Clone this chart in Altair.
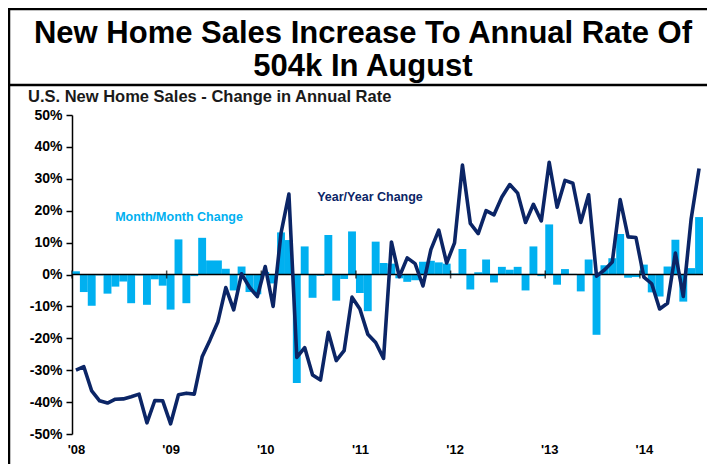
import json
import altair as alt
import pandas as pd

# Months Jan 2008 .. Aug 2014 (index 0..79)
month_index = list(range(80))

# Month/Month change (%), bars
mom = [1.0, -5.5, -9.8, -0.3, -6.0, -3.8, -2.2, -9.0, -0.3, -9.5, -1.5, -3.5,
       -11.0, 11.0, -9.0, -0.5, 11.5, 4.4, 4.4, 1.8, -5.0, 2.5, -5.5, -6.2,
       0.8, -2.8, 13.2, 10.8, -34.0, 8.8, -7.3, -0.4, 12.4, -8.2, -1.4, 13.5,
       -5.8, -11.5, 10.3, 3.6, 3.4, -1.2, -2.3, -1.8, 4.0, 4.3, 3.8, 3.4,
       0.3, 8.0, -4.7, 0.7, 4.7, -2.5, 2.4, 1.5, 2.4, -5.0, 8.8, -0.5,
       15.7, -3.2, 1.7, 0.2, -5.3, 4.7, -18.9, 2.9, 5.1, 12.7, -1.0, -0.8,
       3.1, -5.6, -6.9, 2.5, 10.9, -8.5, 2.0, 18.0]

# Year/Year change (%), line
yoy = [-30.0, -28.9, -36.5, -39.6, -40.3, -39.1, -39.0, -38.3, -37.5, -46.5, -39.5, -39.6,
       -46.8, -37.7, -37.2, -37.5, -25.8, -20.5, -14.8, -4.1, -11.1, 0.2, -4.0, -6.9,
       2.5, -10.0, 13.0, 25.2, -26.0, -22.9, -31.5, -33.1, -18.1, -27.0, -23.9, -7.1,
       -10.8, -18.7, -21.3, -26.3, 10.2, -0.7, 5.2, 3.4, -3.6, 7.8, 13.9, 3.6,
       9.9, 34.3, 16.0, 12.8, 20.0, 18.7, 24.3, 28.2, 25.5, 16.3, 22.0, 16.8,
       35.2, 21.1, 29.5, 28.6, 16.3, 25.0, -0.5, 1.4, 3.9, 23.5, 11.8, 11.6,
       -0.8, -2.9, -10.8, -9.0, 6.7, -6.9, 17.5, 33.2]

year_ticks = [0, 12, 24, 36, 48, 60, 72]
year_labels = ["'08", "'09", "'10", "'11", "'12", "'13", "'14"]
y_ticks = [50, 40, 30, 20, 10, 0, -10, -20, -30, -40, -50]

title_line1 = "New Home Sales Increase To Annual Rate Of"
title_line2 = "504k In August"
subtitle = "U.S. New Home Sales - Change in Annual Rate"
mom_label = "Month/Month Change"
yoy_label = "Year/Year Change"

FONT = "Liberation Sans, Arial, sans-serif"
BAR = "#00B0F0"
NAVY = "#0B2566"

df = pd.DataFrame({"m": month_index, "mom": mom, "yoy": yoy})
df["x0"] = df["m"]
df["x1"] = df["m"] + 1
df["xc"] = df["m"] + 0.5

xs = alt.Scale(domain=[0, 80], nice=False, zero=False)
ys = alt.Scale(domain=[-50, 50], nice=False)

label_expr = "[" + ",".join(json.dumps(l) for l in year_labels) + "][datum.value / 12]"


def xaxis():
    return alt.Axis(values=year_ticks, labelExpr=label_expr, domain=False, ticks=False,
                    tickSize=0, labelPadding=9, labelFont=FONT, labelFontSize=13,
                    labelFontWeight="bold", labelColor="black", labelOffset=4,
                    labelFlush=False, labelOverlap=False, grid=False, title=None)


def yaxis():
    return alt.Axis(values=y_ticks, labelExpr="datum.value + '%'", domainColor="black",
                    domainWidth=1.5, tickColor="black", tickWidth=1.5, tickSize=6,
                    labelFont=FONT, labelFontSize=14, labelFontWeight="bold",
                    labelColor="black", labelPadding=4, labelOverlap=False,
                    labelFlush=False, grid=False, title=None)


bars = alt.Chart(df).mark_bar(color=BAR).encode(
    x=alt.X("x0:Q", scale=xs, axis=xaxis()),
    x2="x1:Q",
    y=alt.Y("mom:Q", scale=ys, axis=yaxis()),
    y2=alt.datum(0),
)

zero = alt.Chart(pd.DataFrame({"z": [0]})).mark_rule(color="black", strokeWidth=1.5).encode(
    y=alt.Y("z:Q", scale=ys, axis=yaxis())
)

ticks = alt.Chart(pd.DataFrame({"t": year_ticks, "z": [0] * len(year_ticks)})).mark_tick(
    orient="vertical", color="black", size=8, thickness=1.5
).encode(x=alt.X("t:Q", scale=xs, axis=xaxis()), y=alt.Y("z:Q", scale=ys, axis=yaxis()))

line = alt.Chart(df).mark_line(color=NAVY, strokeWidth=3.6, strokeJoin="round").encode(
    x=alt.X("xc:Q", scale=xs, axis=xaxis()), y=alt.Y("yoy:Q", scale=ys, axis=yaxis())
)


def text_layer(txt, x, y, size, color="black", align="center", baseline="middle"):
    return alt.Chart(pd.DataFrame({"t": [txt]})).mark_text(
        font=FONT, fontSize=size, fontWeight="bold", color=color,
        align=align, baseline=baseline
    ).encode(text="t:N", x=alt.value(x), y=alt.value(y))


def rule_layer(x, x2, y, y2, w=2.5):
    return alt.Chart(pd.DataFrame({"a": [0]})).mark_rule(color="black", strokeWidth=w).encode(
        x=alt.value(x), x2=alt.value(x2), y=alt.value(y), y2=alt.value(y2)
    )


t1 = text_layer(title_line1, 291, -72, 31, baseline="alphabetic")
t2 = text_layer(title_line2, 291, -39, 31, baseline="alphabetic")
st = text_layer(subtitle, -44, -18, 16.5, color="#1a1a1a", align="left")
ml = text_layer(mom_label, 107, 102, 12.5, color=BAR)
yl = text_layer(yoy_label, 298, 82, 12.5, color=NAVY)

top_rule = rule_layer(-64, 635, -106, -106)
sep_rule = rule_layer(-64, 635, -30, -30)
left_rule = rule_layer(-63, -63, -107, 349)

chart = alt.layer(
    bars, zero, ticks, line, t1, t2, st, ml, yl, top_rule, sep_rule, left_rule
).properties(
    width=631, height=319,
    padding={"left": 64, "top": 107, "right": 4, "bottom": 30},
    autosize=alt.AutoSizeParams(type="none"),
    background="white",
).configure_view(stroke=None).configure_axis(labelOverlap=False)

chart.save("out.html", embed_options={"renderer": "svg", "actions": False})
